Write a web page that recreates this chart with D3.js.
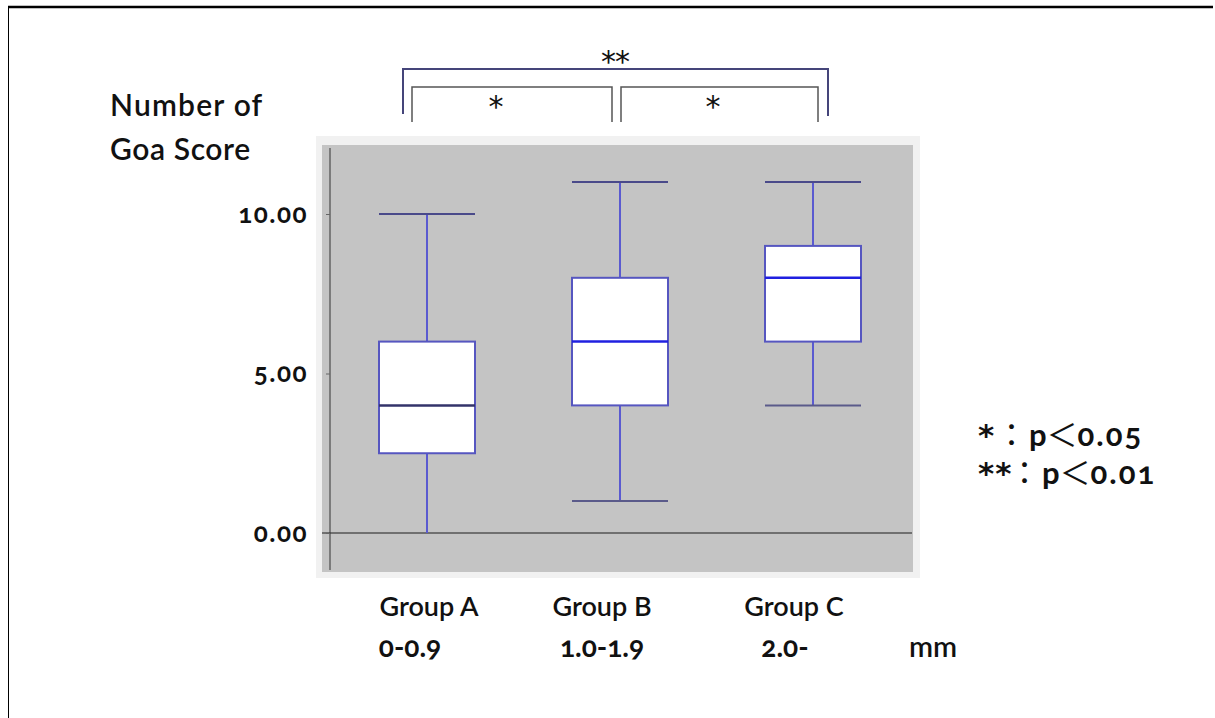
<!DOCTYPE html>
<html>
<head>
<meta charset="utf-8">
<script src="https://cdn.jsdelivr.net/npm/d3@7"></script>
<style>
  body { margin: 0; background: #fff; }
  svg text { font-family: Lato, "Noto Sans", sans-serif; font-variant-numeric: oldstyle-nums; fill: #111; }
  .star { font-family: "DejaVu Sans", sans-serif; }
  .cjk { font-family: "Noto Sans CJK JP", sans-serif; font-weight: normal; }
</style>
</head>
<body>
<svg id="chart" width="1215" height="718"></svg>
<script>
/* data */
var groups = ["Group A", "Group B", "Group C"];
var ranges = ["0-0.9", "1.0-1.9", "2.0-"];
var whiskerLow = [0, 1, 4];
var q1 = [2.5, 4, 6];
var median = [4, 6, 8];
var q3 = [6, 8, 9];
var whiskerHigh = [10, 11, 11];
var yTicks = [0, 5, 10];
var pairs = [["Group A", "Group B", "*"], ["Group B", "Group C", "*"], ["Group A", "Group C", "**"]];
var legendStars = ["*", "**"];
var legendValues = ["0.05", "0.01"];

var svg = d3.select("#chart");

// frame round the slide
svg.append("line").attr("x1", 8).attr("x2", 1213).attr("y1", 7).attr("y2", 7)
  .attr("stroke", "#000").attr("stroke-width", 2.5);
svg.append("line").attr("x1", 8.5).attr("x2", 8.5).attr("y1", 7).attr("y2", 718)
  .attr("stroke", "#000").attr("stroke-width", 1);

var x = d3.scalePoint().domain(groups).range([427, 813]);
var y = d3.scaleLinear().domain([0, 10]).range([533, 214]);
var boxW = 96;

// plot background
svg.append("rect").attr("x", 316).attr("y", 136).attr("width", 604).attr("height", 442).attr("fill", "#f1f1f1");
svg.append("rect").attr("x", 322).attr("y", 145).attr("width", 591).attr("height", 427).attr("fill", "#c4c4c4");

// zero line
svg.append("line").attr("x1", 322).attr("x2", 912).attr("y1", y(0)).attr("y2", y(0))
  .attr("stroke", "#555").attr("stroke-width", 1.5);

// y axis
var yAxis = d3.axisLeft(y).tickValues(yTicks).tickFormat(d3.format(".2f")).tickSize(4).tickPadding(18);
var ga = svg.append("g").attr("transform", "translate(330,0)").call(yAxis);
ga.select(".domain").attr("d", "M0,148V570").attr("stroke", "#333");
ga.selectAll(".tick line").attr("stroke", "#666");
ga.selectAll(".tick text").attr("font-size", 26).attr("font-weight", "bold")
  .attr("letter-spacing", 1.5).attr("fill", "#111");

// boxes
var data = groups.map(function (g, i) {
  return { g: g, lo: whiskerLow[i], q1: q1[i], med: median[i], q3: q3[i], hi: whiskerHigh[i] };
});
var box = svg.append("g").selectAll("g").data(data).enter().append("g");
box.append("line") // whisker
  .attr("x1", function (d) { return x(d.g); }).attr("x2", function (d) { return x(d.g); })
  .attr("y1", function (d) { return y(d.hi); }).attr("y2", function (d) { return y(d.lo); })
  .attr("stroke", "#5a5ad0").attr("stroke-width", 2);
box.append("line") // top cap
  .attr("x1", function (d) { return x(d.g) - boxW / 2; }).attr("x2", function (d) { return x(d.g) + boxW / 2; })
  .attr("y1", function (d) { return y(d.hi); }).attr("y2", function (d) { return y(d.hi); })
  .attr("stroke", "#4a4a8a").attr("stroke-width", 2);
box.filter(function (d) { return d.lo > 0; }).append("line") // bottom cap
  .attr("x1", function (d) { return x(d.g) - boxW / 2; }).attr("x2", function (d) { return x(d.g) + boxW / 2; })
  .attr("y1", function (d) { return y(d.lo); }).attr("y2", function (d) { return y(d.lo); })
  .attr("stroke", "#5a5a8a").attr("stroke-width", 2);
box.append("rect")
  .attr("x", function (d) { return x(d.g) - boxW / 2; })
  .attr("y", function (d) { return y(d.q3); })
  .attr("width", boxW)
  .attr("height", function (d) { return y(d.q1) - y(d.q3); })
  .attr("fill", "#fff").attr("stroke", "#5656c0").attr("stroke-width", 2);
box.append("line") // median
  .attr("x1", function (d) { return x(d.g) - boxW / 2; }).attr("x2", function (d) { return x(d.g) + boxW / 2; })
  .attr("y1", function (d) { return y(d.med); }).attr("y2", function (d) { return y(d.med); })
  .attr("stroke", function (d, i) { return i == 0 ? "#33336a" : "#2020e0"; }).attr("stroke-width", 2.5);

// significance brackets
var inner = pairs.filter(function (p) { return p[2] == "*"; });
var outer = pairs.filter(function (p) { return p[2] == "**"; });
var gb = svg.append("g");
gb.selectAll("path.inner").data(inner).enter().append("path")
  .attr("d", function (p, i) {
    var x1 = i == 0 ? x(p[0]) - 15 : x(p[0]) + 1, x2 = i == 0 ? x(p[1]) - 8 : x(p[1]) + 5;
    return "M" + x1 + ",122V87H" + x2 + "V122";
  })
  .attr("fill", "none").attr("stroke", "#555").attr("stroke-width", 1.5);
gb.selectAll("text.inner").data(inner).enter().append("text").attr("class", "star")
  .attr("x", function (p, i) { return i == 0 ? 496 : 713; })
  .attr("y", 117).attr("text-anchor", "middle").attr("font-size", 30).attr("fill", "#333")
  .text(function (p) { return p[2]; });
gb.selectAll("path.outer").data(outer).enter().append("path")
  .attr("d", function (p) { return "M" + (x(p[0]) - 24) + ",114V69H" + (x(p[1]) + 15) + "V116"; })
  .attr("fill", "none").attr("stroke", "#45457a").attr("stroke-width", 2);
gb.selectAll("text.outer").data(outer).enter().append("text").attr("class", "star")
  .attr("x", 615).attr("y", 72).attr("text-anchor", "middle").attr("font-size", 30).attr("fill", "#444")
  .attr("letter-spacing", -1)
  .text(function (p) { return p[2]; });

// axis title
svg.append("text").attr("x", 110).attr("y", 116).attr("font-size", 30).attr("font-weight", 600)
  .attr("letter-spacing", 1.2).text("Number of");
svg.append("text").attr("x", 110).attr("y", 160).attr("font-size", 30).attr("font-weight", 600)
  .attr("letter-spacing", 0.6).text("Goa Score");

// category labels
var labelShift = [2, -18, -19];
var rangeShift = [-17, -18, -28];
svg.append("g").selectAll("text").data(groups).enter().append("text")
  .attr("x", function (d, i) { return x(d) + labelShift[i]; })
  .attr("y", 616).attr("text-anchor", "middle").attr("font-size", 27).attr("font-weight", 600)
  .text(function (d) { return d; });
svg.append("g").selectAll("text").data(ranges).enter().append("text")
  .attr("x", function (d, i) { return x(groups[i]) + rangeShift[i]; })
  .attr("y", 657).attr("text-anchor", "middle").attr("font-size", 28).attr("font-weight", "bold")
  .text(function (d) { return d; });
svg.append("text").attr("x", 933).attr("y", 657).attr("text-anchor", "middle")
  .attr("font-size", 29).attr("font-weight", 600).text("mm");

// p-value legend
var lg = svg.append("g").selectAll("text").data(legendStars).enter().append("text")
  .attr("y", function (d, i) { return 446 + i * 38; })
  .attr("font-size", 31).attr("font-weight", "bold");
lg.append("tspan").attr("class", "star").attr("x", 978).attr("letter-spacing", 1)
  .text(function (d) { return d; });
lg.append("tspan").attr("class", "cjk").attr("x", function (d, i) { return i == 0 ? 996 : 1009; })
  .text("\uFF1A");
lg.append("tspan").attr("dx", 2).text("p");
lg.append("tspan").attr("class", "cjk").text("\uFF1C");
lg.append("tspan").attr("letter-spacing", 2).text(function (d, i) { return legendValues[i]; });
</script>
</body>
</html>
